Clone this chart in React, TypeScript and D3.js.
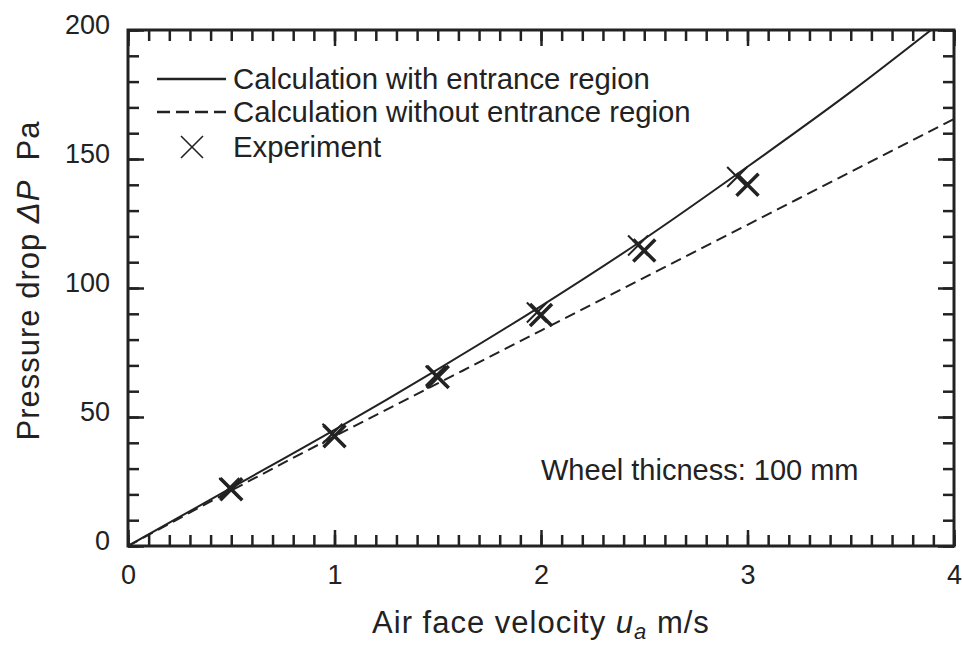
import { useEffect, useRef } from 'react';
import * as d3 from 'd3';

// Velocity (m/s) and pressure drop (Pa)
const calcWithX = [0, 0.5, 1, 1.5, 2, 2.5, 3, 3.5, 4];
const calcWithY = [0, 22.5, 45, 68.5, 93, 119, 147, 176, 207];
const calcWithoutX = [0, 0.5, 1, 1.5, 2, 2.5, 3, 3.5, 4];
const calcWithoutY = [0, 21.5, 42.5, 63, 83.5, 104, 124.5, 145, 165.5];
const expRunAX = [0.5, 1, 1.5, 2, 2.5, 3];
const expRunAY = [22, 42.5, 65.5, 89.5, 114.5, 140];
const expRunBX = [0.49, 0.99, 1.49, 1.98, 2.47, 2.95];
const expRunBY = [22.5, 43.5, 66, 90.5, 116.5, 143];

const xTicks = [0, 1, 2, 3, 4];
const yTicks = [0, 50, 100, 150, 200];
const legendLabels = [
  'Calculation with entrance region',
  'Calculation without entrance region',
  'Experiment',
];
const noteText = 'Wheel thicness: 100 mm';

const FONT = "'Liberation Sans', Arial, Helvetica, sans-serif";
const INK = '#222';

const PressureDropChart = () => {
  const chartRef = useRef<SVGSVGElement>(null);

  useEffect(() => {
    if (!chartRef.current) return;
    d3.select(chartRef.current).selectAll('*').remove();

    const width = 964;
    const height = 650;
    const left = 128;
    const right = 954;
    const top = 30;
    const bottom = 546;

    const x = d3.scaleLinear().domain([0, 4]).range([left, right]);
    const y = d3.scaleLinear().domain([0, 200]).range([bottom, top]);

    const svg = d3
      .select(chartRef.current)
      .attr('width', width)
      .attr('height', height)
      .style('font-family', FONT);

    svg.append('rect').attr('width', width).attr('height', height).attr('fill', '#fff');

    svg.append('clipPath')
      .attr('id', 'plot-clip')
      .append('rect')
      .attr('x', left)
      .attr('y', top)
      .attr('width', right - left)
      .attr('height', bottom - top);

    const xMinor = d3.range(0, 41).map((d) => d / 10);
    const yMinor = d3.range(0, 201, 10);

    const styleAxis = (g: any) => {
      g.select('.domain').remove();
      g.selectAll('line').attr('stroke', INK).attr('stroke-width', 2.5);
      g.selectAll('text')
        .attr('fill', INK)
        .style('font-family', FONT)
        .style('font-size', '27px');
    };

    // minor ticks on all four sides
    svg.append('g').attr('transform', `translate(0,${bottom})`)
      .call(d3.axisBottom(x).tickValues(xMinor).tickSize(-11).tickFormat(() => ''))
      .call(styleAxis);
    svg.append('g').attr('transform', `translate(0,${top})`)
      .call(d3.axisTop(x).tickValues(xMinor).tickSize(-11).tickFormat(() => ''))
      .call(styleAxis);
    svg.append('g').attr('transform', `translate(${left},0)`)
      .call(d3.axisLeft(y).tickValues(yMinor).tickSize(-11).tickFormat(() => ''))
      .call(styleAxis);
    svg.append('g').attr('transform', `translate(${right},0)`)
      .call(d3.axisRight(y).tickValues(yMinor).tickSize(-11).tickFormat(() => ''))
      .call(styleAxis);

    // major ticks
    svg.append('g').attr('transform', `translate(0,${bottom})`)
      .call(d3.axisBottom(x).tickValues(xTicks).tickSize(-16).tickPadding(19).tickFormat(d3.format('d')))
      .call(styleAxis);
    svg.append('g').attr('transform', `translate(0,${top})`)
      .call(d3.axisTop(x).tickValues(xTicks).tickSize(-16).tickFormat(() => ''))
      .call(styleAxis);
    svg.append('g').attr('transform', `translate(${left},0)`)
      .call(d3.axisLeft(y).tickValues(yTicks).tickSize(-16).tickPadding(18).tickFormat(d3.format('d')))
      .call(styleAxis)
      .selectAll('text')
      .attr('dy', '0.14em');
    svg.append('g').attr('transform', `translate(${right},0)`)
      .call(d3.axisRight(y).tickValues(yTicks).tickSize(-16).tickFormat(() => ''))
      .call(styleAxis);

    // frame
    svg.append('rect')
      .attr('x', left)
      .attr('y', top)
      .attr('width', right - left)
      .attr('height', bottom - top)
      .attr('fill', 'none')
      .attr('stroke', INK)
      .attr('stroke-width', 3);

    const line = d3
      .line<[number, number]>()
      .x((d) => x(d[0]))
      .y((d) => y(d[1]))
      .curve(d3.curveMonotoneX);

    const withPts = calcWithX.map((v, i) => [v, calcWithY[i]] as [number, number]);
    const withoutPts = calcWithoutX.map((v, i) => [v, calcWithoutY[i]] as [number, number]);

    const curves = svg.append('g').attr('clip-path', 'url(#plot-clip)');

    curves.append('path')
      .datum(withoutPts)
      .attr('d', line)
      .attr('fill', 'none')
      .attr('stroke', INK)
      .attr('stroke-width', 2)
      .attr('stroke-dasharray', '11,6');

    curves.append('path')
      .datum(withPts)
      .attr('d', line)
      .attr('fill', 'none')
      .attr('stroke', INK)
      .attr('stroke-width', 2);

    const cross = (g: any, cx: number, cy: number, r: number, w: number) => {
      g.append('path')
        .attr('d', `M${cx - r},${cy - r}L${cx + r},${cy + r}M${cx - r},${cy + r}L${cx + r},${cy - r}`)
        .attr('stroke', INK)
        .attr('stroke-width', w)
        .attr('fill', 'none');
    };

    const markers = svg.append('g');
    expRunBX.forEach((v, i) => cross(markers, x(v), y(expRunBY[i]), 10, 2));
    expRunAX.forEach((v, i) => cross(markers, x(v), y(expRunAY[i]), 11, 3.5));

    // legend
    const legend = svg.append('g');
    const legendRows = [79, 112, 147];
    legend.append('line')
      .attr('x1', 157).attr('x2', 226)
      .attr('y1', legendRows[0]).attr('y2', legendRows[0])
      .attr('stroke', INK).attr('stroke-width', 2.5);
    legend.append('line')
      .attr('x1', 157).attr('x2', 226)
      .attr('y1', legendRows[1]).attr('y2', legendRows[1])
      .attr('stroke', INK).attr('stroke-width', 2.5)
      .attr('stroke-dasharray', '13,6');
    cross(legend, 192, legendRows[2], 11, 1.6);
    legendLabels.forEach((t, i) => {
      legend.append('text')
        .attr('x', 233)
        .attr('y', legendRows[i] + 10)
        .attr('fill', INK)
        .style('font-size', '29.3px')
        .text(t);
    });

    svg.append('text')
      .attr('x', 541)
      .attr('y', 480)
      .attr('fill', INK)
      .style('font-size', '29px')
      .text(noteText);

    // x title
    const xt = svg.append('text')
      .attr('x', (left + right) / 2)
      .attr('y', 633)
      .attr('text-anchor', 'middle')
      .attr('fill', INK)
      .style('font-size', '31px')
      .style('letter-spacing', '1px');
    xt.append('tspan').text('Air face velocity ');
    xt.append('tspan').style('font-style', 'italic').text('u');
    xt.append('tspan').style('font-style', 'italic').style('font-size', '22px').attr('dy', 6).text('a');
    xt.append('tspan').attr('dy', -6).text(' m/s');

    // y title
    const yt = svg.append('text')
      .attr('transform', `translate(39,${(118 + 443) / 2}) rotate(-90)`)
      .attr('text-anchor', 'middle')
      .attr('fill', INK)
      .style('font-size', '31px')
      .style('letter-spacing', '1px');
    yt.append('tspan').text('Pressure drop ');
    yt.append('tspan').style('font-style', 'italic').text('\u0394P');
    yt.append('tspan').text('\u00a0 Pa');
  }, []);

  return <svg ref={chartRef} style={{ position: 'absolute', left: 0, top: 0 }} />;
};

export default function App() {
  return <PressureDropChart />;
}
